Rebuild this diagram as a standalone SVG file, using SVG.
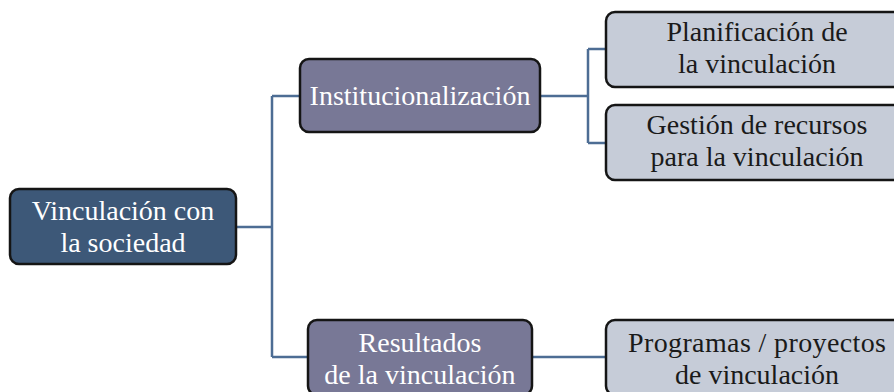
<svg xmlns="http://www.w3.org/2000/svg" width="894" height="392" viewBox="0 0 894 392">
<style>
.box{stroke:#151515;stroke-width:2.5}
.root{fill:#3d5878}
.mid{fill:#787896}
.leaf{fill:#c6ccd8}
.t{font-family:"Liberation Serif","Times New Roman",serif;font-size:28px;text-anchor:middle}
.w{fill:#ffffff}
.k{fill:#1a1a1a}
.c{fill:none;stroke:#4d6d94;stroke-width:2.5}
</style>
<rect width="894" height="392" fill="#ffffff"/>
<g id="connectors">
<path class="c" d="M236 227H272M272 96V357M272 96H300M272 357H308"/>
<path class="c" d="M540 96H588M588 49V143M588 49H606M588 143H606"/>
<path class="c" d="M532 357H606"/>
</g>
<g id="n-root">
<rect class="box root" x="10" y="189" width="226" height="75" rx="9"/>
<text class="t w" x="123" y="220">Vinculación con</text>
<text class="t w" x="123" y="252">la sociedad</text>
</g>
<g id="n-inst">
<rect class="box mid" x="300" y="59" width="240" height="73" rx="9"/>
<text class="t w" x="420" y="105">Institucionalización</text>
</g>
<g id="n-res">
<rect class="box mid" x="308" y="320" width="224" height="75" rx="9"/>
<text class="t w" x="420" y="352">Resultados</text>
<text class="t w" x="420" y="384">de la vinculación</text>
</g>
<g id="n-plan">
<rect class="box leaf" x="606" y="12" width="302" height="75" rx="9"/>
<text class="t k" x="757" y="41">Planificación de</text>
<text class="t k" x="757" y="73">la vinculación</text>
</g>
<g id="n-gest">
<rect class="box leaf" x="606" y="105" width="302" height="75" rx="9"/>
<text class="t k" x="757" y="134">Gestión de recursos</text>
<text class="t k" x="757" y="166">para la vinculación</text>
</g>
<g id="n-prog">
<rect class="box leaf" x="606" y="320" width="302" height="75" rx="9"/>
<text class="t k" x="757" y="352" textLength="258" lengthAdjust="spacing">Programas / proyectos</text>
<text class="t k" x="757" y="384">de vinculación</text>
</g>
</svg>
